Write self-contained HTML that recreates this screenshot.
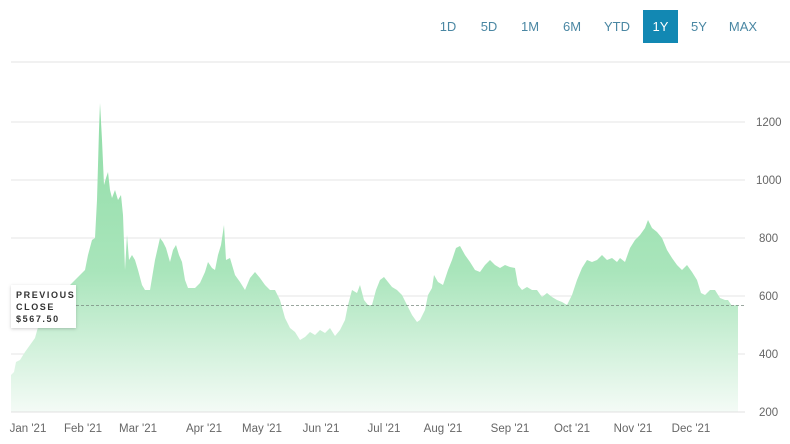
<!DOCTYPE html>
<html><head><meta charset="utf-8"><style>
body{margin:0;background:#fff;width:790px;height:444px;overflow:hidden;font-family:"Liberation Sans",sans-serif}
svg{position:absolute;left:0;top:0}
.btn{position:absolute;top:10px;height:33px;line-height:33px;font-size:13px;color:#4a87a3;text-align:center;width:36px}
</style></head><body>
<svg width="790" height="444">
<defs><linearGradient id="g" x1="0" y1="100" x2="0" y2="412" gradientUnits="userSpaceOnUse">
<stop offset="0" stop-color="#8fdca6"/><stop offset="0.55" stop-color="#a9e5bb"/><stop offset="1" stop-color="#f4fbf6"/></linearGradient>
<filter id="sh" x="-20%" y="-20%" width="140%" height="140%"><feDropShadow dx="0" dy="1" stdDeviation="1.5" flood-opacity="0.2"/></filter></defs>
<line x1="11" y1="62" x2="790" y2="62" stroke="#e3e3e3"/>
<g stroke="#e6e6e6"><line x1="11" y1="122" x2="745" y2="122"/><line x1="11" y1="180" x2="745" y2="180"/><line x1="11" y1="238" x2="745" y2="238"/><line x1="11" y1="296" x2="745" y2="296"/><line x1="11" y1="354" x2="745" y2="354"/></g>
<path fill="url(#g)" d="M11,412 L11,375 14,372 16,362 20,360 25,352 30,345 35,338 40,320 45,310 50,300 55,290 60,296 65,290 70,285 75,280 80,275 85,270 88,255 92,240 95,238 97,200 99,130 100,103 102,140 104,185 106,178 108,172 110,190 112,198 115,190 118,200 121,195 123,215 125,270 127,235 129,260 132,255 135,260 138,270 142,285 145,290 150,290 155,260 160,238 163,242 166,248 170,262 173,250 176,245 179,255 182,262 185,280 188,288 195,288 200,283 205,272 208,262 212,268 215,270 218,255 221,245 224,225 226,260 230,258 235,275 240,282 245,290 250,278 255,272 260,278 265,285 270,290 275,290 280,300 285,318 290,328 295,332 300,340 305,337 310,332 315,335 320,330 325,333 330,328 335,336 340,330 345,320 348,305 352,290 357,293 360,285 364,300 368,305 372,305 376,290 380,280 384,277 388,282 392,287 397,290 402,295 407,305 412,315 417,322 420,320 425,310 428,295 432,288 434,275 438,282 443,285 448,270 452,260 456,248 460,246 465,255 470,262 475,270 480,272 485,265 490,260 495,265 500,268 505,265 510,267 515,268 518,285 522,290 527,287 532,290 537,290 542,297 547,293 552,297 557,300 562,302 567,305 572,295 577,280 582,268 587,260 592,262 597,260 602,255 607,260 612,258 617,262 620,258 625,262 630,248 635,240 640,235 645,228 648,220 652,228 657,232 662,238 667,250 672,258 677,265 682,270 687,265 692,272 697,280 701,293 705,295 710,290 715,290 720,298 725,300 728,300 732,306 736,305 738,305 738,412 Z"/>
<line x1="11" y1="412" x2="745" y2="412" stroke="#e0e0e0"/>
<line x1="76" y1="305.5" x2="745" y2="305.5" stroke="#7a8a80" stroke-dasharray="3,2" stroke-width="0.8"/>
<rect x="11" y="285" width="65" height="43" fill="#fff" filter="url(#sh)"/>
<g font-size="9" fill="#333" letter-spacing="1.6" font-weight="bold"><text x="16" y="298">PREVIOUS</text><text x="16" y="310">CLOSE</text><text x="16" y="322">$567.50</text></g>
<g font-size="11.5" fill="#666"><text x="756" y="126">1200</text><text x="756" y="184">1000</text><text x="759" y="242">800</text><text x="759" y="300">600</text><text x="759" y="358">400</text><text x="759" y="416">200</text></g>
<g font-size="11.5" fill="#666" text-anchor="middle"><text x="28" y="432">Jan '21</text><text x="83" y="432">Feb '21</text><text x="138" y="432">Mar '21</text><text x="204" y="432">Apr '21</text><text x="262" y="432">May '21</text><text x="321" y="432">Jun '21</text><text x="384" y="432">Jul '21</text><text x="443" y="432">Aug '21</text><text x="510" y="432">Sep '21</text><text x="572" y="432">Oct '21</text><text x="633" y="432">Nov '21</text><text x="691" y="432">Dec '21</text></g>
</svg>
<div class="btn" style="left:430px">1D</div>
<div class="btn" style="left:471px">5D</div>
<div class="btn" style="left:512px">1M</div>
<div class="btn" style="left:554px">6M</div>
<div class="btn" style="left:599px">YTD</div>
<div class="btn" style="left:643px;width:35px;background:#1288b3;color:#fff">1Y</div>
<div class="btn" style="left:681px">5Y</div>
<div class="btn" style="left:725px">MAX</div>
</body></html>
